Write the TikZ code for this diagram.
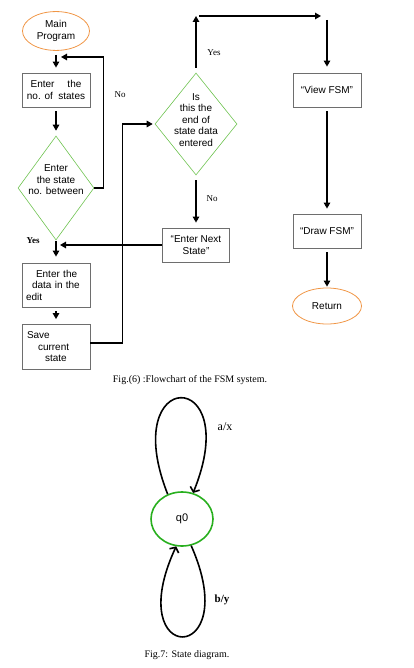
\documentclass[tikz,border=0pt]{standalone}
\usepackage{fontspec}
\setmainfont{Liberation Serif}
\setsansfont{Liberation Sans}
\usetikzlibrary{shapes.geometric,arrows.meta}
\definecolor{termorange}{RGB}{240,150,70}
\definecolor{decgreen}{RGB}{110,195,80}
\definecolor{stategreen}{RGB}{40,175,30}
\definecolor{boxgray}{RGB}{110,110,110}
\tikzstyle{block} = [rectangle, draw=boxgray, line width=0.8pt, minimum width=68pt, minimum height=34pt, align=center]
\tikzstyle{decision} = [diamond, draw=decgreen, line width=0.6pt, align=center, inner xsep=-15pt, inner ysep=-20pt]
\tikzstyle{terminal} = [ellipse, draw=termorange, line width=0.8pt, minimum width=68pt, minimum height=34pt, align=center]
\tikzstyle{flow} = [-{Triangle[length=6pt,width=6.5pt]}, line width=1.3pt, shorten <=4pt, shorten >=5pt]
\tikzstyle{answer} = [font=\rmfamily\fontsize{9}{10}\selectfont]
\tikzstyle{caption} = [font=\rmfamily\fontsize{10}{12}\selectfont]
\tikzstyle{fsmstate} = [ellipse, draw=stategreen, line width=1.6pt, minimum width=62pt, minimum height=54pt, font=\sffamily\fontsize{11}{13}\selectfont]
\tikzstyle{loopline} = [-{Straight Barb[length=4pt,width=10pt]}, line width=1.6pt]

\begin{document}
\begin{tikzpicture}[font=\sffamily\fontsize{10}{11.5}\selectfont]
  \useasboundingbox (0pt,0pt) rectangle (414pt,-668pt);
  % flowchart, left column
  \draw (56pt, -31pt)node[terminal, minimum width=67pt, minimum height=32pt](main){Main\\Program};
  \draw (56pt, -90pt)node[block](states){Enter\hspace{1.3em}the\\no. of\ \ states};
  \draw (56pt, -188pt)node[decision, minimum width=76pt, minimum height=104pt, text depth=16pt](enter){Enter\\the state\\no. between};
  \draw (56pt, -285pt)node[block, minimum height=44pt, text width=60pt, inner xsep=4pt, align=left](data){\hspace*{10pt}Enter the\\\hspace*{6pt}data in the\\edit};
  \draw (56pt, -347pt)node[block, minimum height=45pt, text width=60pt, inner xsep=4pt, align=left](save){\hspace*{1pt}Save\\\hspace*{12pt}current\\\hspace*{19pt}state};
  % middle and right column
  \draw (196pt, -124pt)node[decision, minimum width=82pt, minimum height=102pt, text depth=8pt](check){Is\\this the\\end of\\state data\\entered};
  \draw (196pt, -245pt)node[block, minimum width=67pt](next){“Enter Next\\State”};
  \draw (327pt, -90pt)node[block](view){“View FSM”};
  \draw (327pt, -231pt)node[block](drawfsm){“Draw FSM”};
  \draw (327pt, -306pt)node[terminal, minimum width=69pt, minimum height=36pt](ret){Return};
  \coordinate (loopin) at (61pt, -57pt);
  \coordinate (top) at (196pt, -16pt);
  \coordinate (corner) at (top -| view.north);
  % straight arrows
  \path[flow] (main) edge (states);
  \path[flow] (states) edge (enter);
  \path[flow, shorten <=1pt, shorten >=6pt] (enter) edge (data);
  \path[flow] (data) edge (save);
  \path[flow, shorten <=5pt] (check) edge (next);
  \path[flow] (view) edge (drawfsm);
  \path[flow, shorten >=1pt] (drawfsm) edge (ret);
  % bent arrows
  \draw[flow, shorten <=0pt, shorten >=0pt] (enter.east) -- ++(9pt,0pt) |- (loopin);
  \draw[flow, shorten <=0pt, shorten >=4pt] (next.west) -- (next.west -| enter.south);
  \draw[flow, shorten <=0pt, shorten >=2pt] ([yshift=4pt]save.east) -- ++(32pt,0pt) |- (check.west);
  \draw[flow, shorten <=5pt, shorten >=0pt] (check.north) -- (top);
  \draw[flow, shorten <=3pt, shorten >=6pt] (top) -- (corner);
  \draw[flow, shorten <=4pt, shorten >=6pt] (corner) -- (view);
  % answers
  \draw (120pt, -95pt)node[answer](noloop){No};
  \draw (33pt, -241pt)node[answer, font=\rmfamily\bfseries\fontsize{9}{10}\selectfont](yesenter){Yes};
  \draw (214pt, -53pt)node[answer](yescheck){Yes};
  \draw (212pt, -199pt)node[answer](nocheck){No};
  \draw (190pt, -380pt)node[caption](figsix){Fig.(6) :Flowchart of the FSM system.};
  % state diagram
  \draw (182pt, -519pt)node[fsmstate](q0){q0};
  \draw[loopline] (q0.120) .. controls (117pt,-366pt) and (245pt,-366pt) .. (q0.67);
  \draw[loopline] (q0.289) .. controls (245pt,-667pt) and (120pt,-667pt) .. (q0.258);
  \draw (225pt, -427pt)node[font=\rmfamily\fontsize{12}{14}\selectfont](ax){a/x};
  \draw (222pt, -600pt)node[font=\rmfamily\bfseries\fontsize{11}{13}\selectfont](by){b/y};
  \draw (187pt, -655pt)node[caption](figseven){Fig.7: State diagram.};
\end{tikzpicture}
\end{document}
